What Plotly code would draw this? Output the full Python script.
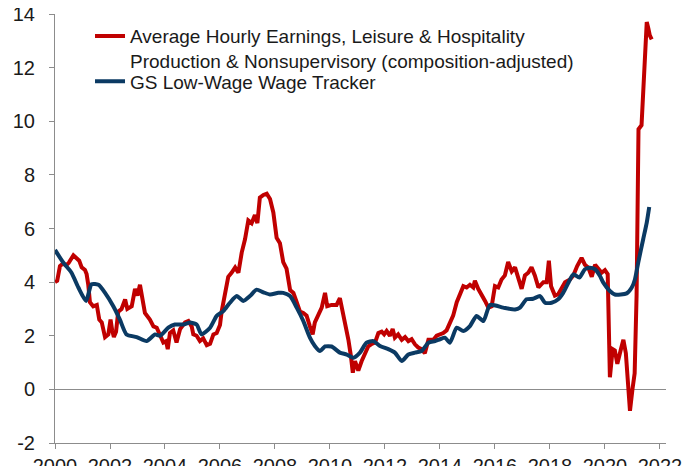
import plotly.graph_objects as go

# Average Hourly Earnings, Leisure & Hospitality (decimal year, % yoy)
ahe_x = [2000.00, 2000.08, 2000.18, 2000.30, 2000.40, 2000.50, 2000.67, 2000.78, 2000.88, 2000.97,
         2001.09, 2001.15, 2001.21, 2001.27, 2001.39, 2001.52, 2001.61, 2001.70, 2001.82, 2001.94,
         2002.02, 2002.08, 2002.14, 2002.22, 2002.30, 2002.42, 2002.55, 2002.63, 2002.79, 2002.91,
         2003.00, 2003.09, 2003.19, 2003.27, 2003.45, 2003.58, 2003.70, 2003.82, 2003.94, 2004.04,
         2004.10, 2004.18, 2004.30, 2004.42, 2004.55, 2004.73, 2004.85, 2004.97, 2005.03, 2005.15,
         2005.27, 2005.39, 2005.52, 2005.64, 2005.76, 2005.88, 2006.00, 2006.06, 2006.18, 2006.30,
         2006.42, 2006.55, 2006.67, 2006.79, 2006.91, 2007.03, 2007.15, 2007.27, 2007.36, 2007.45,
         2007.58, 2007.70, 2007.82, 2007.94, 2008.06, 2008.18, 2008.30, 2008.42, 2008.55, 2008.67,
         2008.79, 2008.91, 2009.03, 2009.15, 2009.27, 2009.37, 2009.45, 2009.58, 2009.70, 2009.82,
         2009.90, 2010.06, 2010.24, 2010.36, 2010.42, 2010.55, 2010.67, 2010.76, 2010.83, 2010.91,
         2011.03, 2011.15, 2011.27, 2011.39, 2011.52, 2011.64, 2011.76, 2011.88, 2011.97, 2012.06,
         2012.18, 2012.28, 2012.36, 2012.48, 2012.61, 2012.73, 2012.85, 2012.97, 2013.09, 2013.21,
         2013.33, 2013.45, 2013.58, 2013.76, 2013.88, 2014.00, 2014.12, 2014.24, 2014.36, 2014.48,
         2014.61, 2014.73, 2014.85, 2014.97, 2015.09, 2015.21, 2015.27, 2015.39, 2015.52, 2015.64,
         2015.76, 2015.88, 2016.00, 2016.12, 2016.24, 2016.36, 2016.48, 2016.61, 2016.73, 2016.85,
         2016.97, 2017.09, 2017.21, 2017.33, 2017.45, 2017.58, 2017.76, 2017.88, 2017.96, 2018.04,
         2018.18, 2018.30, 2018.42, 2018.55, 2018.73, 2018.85, 2018.99, 2019.15, 2019.27, 2019.39,
         2019.52, 2019.64, 2019.76, 2019.88, 2020.00, 2020.10, 2020.18, 2020.28, 2020.36, 2020.45,
         2020.58, 2020.67, 2020.76, 2020.84, 2020.91, 2021.00, 2021.08, 2021.15, 2021.22, 2021.33,
         2021.43, 2021.52, 2021.58, 2021.63, 2021.70]
ahe_y = [4.00, 4.05, 4.60, 4.70, 4.62, 4.72, 5.00, 4.90, 4.80, 4.55,
         4.45, 4.30, 3.90, 3.25, 3.10, 3.15, 2.60, 2.50, 1.95, 2.05,
         2.60, 2.20, 1.95, 2.15, 2.90, 3.00, 3.35, 3.00, 3.10, 3.75,
         3.50, 3.90, 3.30, 2.85, 2.60, 2.35, 2.30, 2.00, 1.75, 1.80,
         1.50, 2.10, 2.20, 1.75, 2.25, 2.50, 2.55, 2.35, 2.05, 2.00,
         1.80, 1.90, 1.65, 1.70, 2.05, 2.10, 2.40, 2.90, 3.50, 4.20,
         4.35, 4.55, 4.35, 5.10, 5.60, 6.30, 6.20, 6.50, 6.20, 7.15,
         7.25, 7.30, 7.10, 6.60, 5.65, 5.45, 4.75, 4.50, 3.70, 3.60,
         3.25, 2.90, 2.85, 2.75, 2.35, 2.05, 2.50, 2.75, 3.05, 3.60,
         3.10, 3.15, 3.15, 3.40, 3.10, 2.50, 1.85, 1.25, 0.62, 1.05,
         0.70, 1.05, 1.35, 1.60, 1.70, 1.75, 2.10, 2.15, 2.05, 2.18,
         2.00, 2.25, 1.93, 2.05, 1.85, 1.95, 1.80, 1.87, 1.68, 1.56,
         1.50, 1.35, 1.85, 1.85, 2.00, 2.05, 2.10, 2.20, 2.50, 2.75,
         3.25, 3.60, 3.85, 3.80, 3.90, 3.80, 4.05, 3.75, 3.55, 3.30,
         3.05, 3.10, 3.85, 3.80, 4.10, 4.25, 4.75, 4.40, 4.55, 4.10,
         3.75, 4.25, 4.35, 4.55, 4.25, 3.80, 4.00, 4.00, 4.80, 3.85,
         3.50, 3.55, 3.75, 4.00, 4.10, 4.25, 4.60, 4.90, 4.65, 4.55,
         4.20, 4.65, 4.50, 4.35, 4.45, 4.30, 0.45, 1.50, 1.45, 0.95,
         1.50, 1.85, 1.35, 0.30, -0.80, 0.00, 0.60, 3.50, 9.70, 9.85,
         11.70, 13.70, 13.45, 13.20, 13.05]

# GS Low-Wage Wage Tracker (decimal year, %)
gs_x = [2000.00, 2000.30, 2000.60, 2000.85, 2001.13, 2001.33, 2001.58, 2001.82, 2002.12, 2002.36,
        2002.60, 2002.97, 2003.33, 2003.64, 2003.82, 2004.12, 2004.36, 2004.67, 2004.91, 2005.15,
        2005.33, 2005.64, 2005.88, 2006.12, 2006.36, 2006.61, 2006.85, 2007.09, 2007.33, 2007.58,
        2007.82, 2008.12, 2008.30, 2008.55, 2008.79, 2009.03, 2009.27, 2009.45, 2009.64, 2009.82,
        2010.06, 2010.36, 2010.61, 2010.85, 2011.09, 2011.33, 2011.58, 2011.82, 2012.12, 2012.36,
        2012.61, 2012.85, 2013.09, 2013.33, 2013.58, 2013.82, 2014.00, 2014.18, 2014.36, 2014.61,
        2014.85, 2015.09, 2015.33, 2015.58, 2015.82, 2016.30, 2016.73, 2016.91, 2017.15, 2017.39,
        2017.64, 2017.82, 2018.06, 2018.30, 2018.48, 2018.67, 2018.85, 2019.07, 2019.27, 2019.45,
        2019.64, 2019.82, 2019.94, 2020.18, 2020.36, 2020.79, 2020.97, 2021.09, 2021.21, 2021.39,
        2021.52, 2021.61]
gs_y = [5.20, 4.73, 4.35, 3.80, 3.30, 3.92, 3.90, 3.60, 3.10, 2.60,
        2.05, 1.95, 1.80, 2.05, 2.00, 2.30, 2.42, 2.42, 2.49, 2.42,
        2.05, 2.30, 2.74, 2.92, 3.23, 3.48, 3.30, 3.48, 3.72, 3.62,
        3.54, 3.60, 3.60, 3.48, 3.05, 2.55, 1.93, 1.62, 1.43, 1.60,
        1.60, 1.37, 1.30, 1.18, 1.37, 1.74, 1.80, 1.62, 1.50, 1.37,
        1.06, 1.30, 1.37, 1.43, 1.74, 1.80, 1.87, 1.93, 1.74, 2.30,
        2.18, 2.36, 2.74, 2.55, 3.15, 3.05, 2.98, 3.05, 3.36, 3.38,
        3.48, 3.23, 3.23, 3.36, 3.60, 3.98, 4.29, 4.17, 4.48, 4.54,
        4.48, 4.23, 3.98, 3.67, 3.54, 3.58, 3.79, 4.10, 4.73, 5.60,
        6.22, 6.80]

x_ticks = [2000, 2002, 2004, 2006, 2008, 2010, 2012, 2014, 2016, 2018, 2020, 2022]
y_ticks = [-2, 0, 2, 4, 6, 8, 10, 12, 14]

FONT = "Liberation Sans, Arial, sans-serif"
AX = "#8c8c8c"
TXT = "#1a1a1a"

fig = go.Figure()
fig.add_trace(go.Scatter(
    x=ahe_x, y=ahe_y, mode="lines",
    name="Average Hourly Earnings, Leisure & Hospitality<br>Production & Nonsupervisory (composition-adjusted)",
    line=dict(color="#c00000", width=4), legend="legend",
))
fig.add_trace(go.Scatter(
    x=gs_x, y=gs_y, mode="lines",
    name="GS Low-Wage Wage Tracker",
    line=dict(color="#0b3a63", width=4, shape="spline", smoothing=0.6), legend="legend2",
))

leg_common = dict(
    xanchor="left", yanchor="top",
    bgcolor="rgba(0,0,0,0)", borderwidth=0,
    font=dict(family=FONT, size=19, color=TXT),
    tracegroupgap=0, valign="top", itemwidth=30,
)

fig.update_layout(
    width=695, height=466,
    margin=dict(l=47, r=37, t=6, b=31, autoexpand=False),
    plot_bgcolor="white", paper_bgcolor="white",
    font=dict(family=FONT, size=19, color=TXT),
    showlegend=True,
    legend=dict(x=0.0573, y=0.9925, **leg_common),
    legend2=dict(x=0.0573, y=0.887, **leg_common),
    xaxis=dict(
        range=[2000, 2022.22], tickvals=x_ticks, ticktext=[str(v) for v in x_ticks],
        showgrid=False, zeroline=False, showline=True, linecolor=AX, linewidth=1,
        ticks="outside", ticklen=5, tickcolor=AX, tickwidth=1, automargin=False,
        ticklabeloverflow="allow",
        tickfont=dict(family=FONT, size=20, color=TXT),
    ),
    yaxis=dict(
        range=[-2, 14], tickvals=y_ticks, ticktext=[str(v) for v in y_ticks],
        showgrid=False, zeroline=True, zerolinecolor=AX, zerolinewidth=1,
        showline=True, linecolor=AX, linewidth=1, automargin=False,
        ticks="outside", ticklen=5, tickcolor=AX, tickwidth=1, ticklabelstandoff=10,
        ticklabeloverflow="allow",
        tickfont=dict(family=FONT, size=20, color=TXT),
    ),
)

fig.write_html("out.html")
